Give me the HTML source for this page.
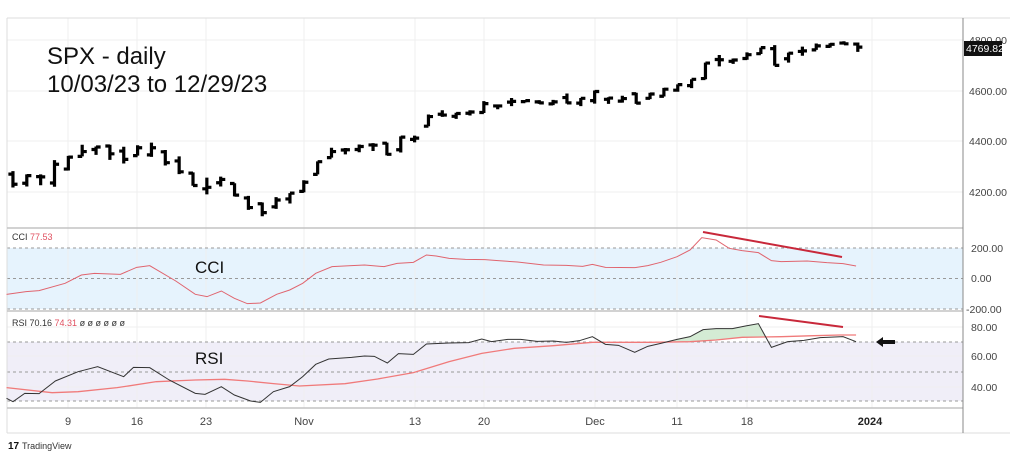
<!DOCTYPE html>
<html><head><meta charset="utf-8"><style>
html,body{margin:0;padding:0;background:#fff;}
svg{display:block;font-family:"Liberation Sans",sans-serif;}
</style></head><body>
<svg width="1023" height="457" viewBox="0 0 1023 457" xmlns="http://www.w3.org/2000/svg">
<rect width="1023" height="457" fill="#fff"/>
<rect x="7" y="248" width="956" height="61" fill="#e6f3fd"/>
<rect x="7" y="342" width="956" height="59" fill="#f0eef8"/>
<g stroke="#efefef" stroke-width="1">
<line x1="68" y1="18" x2="68" y2="408"/><line x1="137" y1="18" x2="137" y2="408"/><line x1="206" y1="18" x2="206" y2="408"/><line x1="304" y1="18" x2="304" y2="408"/><line x1="415" y1="18" x2="415" y2="408"/><line x1="484" y1="18" x2="484" y2="408"/><line x1="595" y1="18" x2="595" y2="408"/><line x1="677" y1="18" x2="677" y2="408"/><line x1="747" y1="18" x2="747" y2="408"/><line x1="872" y1="18" x2="872" y2="408"/>
<line x1="7" y1="40" x2="963" y2="40"/><line x1="7" y1="91" x2="963" y2="91"/><line x1="7" y1="141" x2="963" y2="141"/><line x1="7" y1="192" x2="963" y2="192"/>
<line x1="7" y1="327" x2="963" y2="327"/><line x1="7" y1="356" x2="963" y2="356"/><line x1="7" y1="387" x2="963" y2="387"/>
</g>
<g stroke="#999" stroke-width="1" stroke-dasharray="3,3">
<line x1="7" y1="248" x2="963" y2="248"/><line x1="7" y1="278.5" x2="963" y2="278.5"/><line x1="7" y1="309" x2="963" y2="309"/>
<line x1="7" y1="342" x2="963" y2="342"/><line x1="7" y1="372" x2="963" y2="372"/><line x1="7" y1="401" x2="963" y2="401"/>
</g>
<g stroke="#dcdcdc" stroke-width="1" fill="none">
<line x1="7" y1="18" x2="1010" y2="18"/>
<line x1="7" y1="433" x2="1010" y2="433"/>
<line x1="7" y1="18" x2="7" y2="433"/>
</g>
<g stroke="#c4c4c4" stroke-width="1.5">
<line x1="7" y1="228" x2="963" y2="228"/><line x1="7" y1="311" x2="963" y2="311"/><line x1="7" y1="408" x2="963" y2="408"/>
</g>
<line x1="963" y1="18" x2="963" y2="433" stroke="#888" stroke-width="1"/>

<g transform="matrix(13.85 0 0 -0.2535 12.95 1256.3)" fill="none">
<path vector-effect="non-scaling-stroke" stroke="#000" stroke-width="3.2" d="
M0,4216V4281M-0.33,4269H0M0,4229H0.33
M1,4220V4268M0.67,4233H1M1,4263H1.33
M2,4225V4268M1.67,4259H2M2,4258H2.33
M3,4219V4324M2.67,4234H3M3,4308H3.33
M4,4283V4341M3.67,4289H4M4,4336H4.33
M5,4339V4385M4.67,4339H5M5,4358H5.33
M6,4345V4378M5.67,4366H6M6,4376H6.33
M7,4325V4385M6.67,4380H7M7,4349H7.33
M8,4311V4377M7.67,4360H8M8,4327H8.33
M9,4342V4383M8.67,4342H9M9,4373H9.33
M10,4337V4393M9.67,4345H10M10,4373H10.33
M11,4303V4364M10.67,4357H11M11,4314H11.33
M12,4269V4339M11.67,4321H12M12,4278H12.33
M13,4223V4276M12.67,4273H13M13,4224H13.33
M14,4189V4255M13.67,4211H14M14,4217H14.33
M15,4220V4259M14.67,4235H15M15,4248H15.33
M16,4181V4233M15.67,4232H16M16,4186H16.33
M17,4128V4183M16.67,4175H17M17,4137H17.33
M18,4103V4157M17.67,4152H18M18,4117H18.33
M19,4132V4178M18.67,4140H19M19,4167H19.33
M20,4153V4194M19.67,4171H20M20,4194H20.33
M21,4197V4245M20.67,4201H21M21,4237H21.33
M22,4268V4319M21.67,4268H22M22,4318H22.33
M23,4334V4373M22.67,4334H23M23,4358H23.33
M24,4347V4372M23.67,4364H24M24,4365H24.33
M25,4355V4386M24.67,4366H25M25,4378H25.33
M26,4360V4391M25.67,4384H26M26,4383H26.33
M27,4343V4393M26.67,4391H27M27,4347H27.33
M28,4354V4418M27.67,4365H28M28,4415H28.33
M29,4394V4421M28.67,4406H29M29,4411H29.33
M30,4458V4504M29.67,4458H30M30,4496H30.33
M31,4495V4521M30.67,4505H31M31,4502H31.33
M32,4487V4511M31.67,4497H32M32,4508H32.33
M33,4500V4521M32.67,4509H33M33,4514H33.33
M34,4510V4557M33.67,4512H34M34,4547H34.33
M35,4525V4542M34.67,4538H35M35,4538H35.33
M36,4537V4569M35.67,4553H36M36,4556H36.33
M37,4552V4560M36.67,4555H37M37,4559H37.33
M38,4546V4561M37.67,4554H38M38,4550H38.33
M39,4541V4562M38.67,4546H39M39,4554H39.33
M40,4547V4587M39.67,4571H40M40,4550H40.33
M41,4537V4569M40.67,4549H41M41,4568H41.33
M42,4547V4599M41.67,4559H42M42,4595H42.33
M43,4546V4572M42.67,4564H43M43,4569H43.33
M44,4551V4578M43.67,4557H44M44,4567H44.33
M45,4546V4590M44.67,4586H45M45,4549H45.33
M46,4565V4590M45.67,4568H46M46,4585H46.33
M47,4575V4609M46.67,4576H47M47,4604H47.33
M48,4594V4623M47.67,4600H48M48,4622H48.33
M49,4608V4643M48.67,4618H49M49,4643H49.33
M50,4643V4709M49.67,4646H50M50,4707H50.33
M51,4694V4739M50.67,4721H51M51,4720H51.33
M52,4704V4725M51.67,4714H52M52,4719H52.33
M53,4720V4749M52.67,4725H53M53,4740H53.33
M54,4743V4768M53.67,4744H54M54,4768H54.33
M55,4697V4778M54.67,4764H55M55,4698H55.33
M56,4709V4748M55.67,4724H56M56,4746H56.33
M57,4736V4772M56.67,4753H57M57,4755H57.33
M58,4759V4784M57.67,4759H58M58,4775H58.33
M59,4768V4785M58.67,4773H59M59,4781H59.33
M60,4780V4793M59.67,4786H60M60,4783H60.33
M61,4751V4788M60.67,4782H61M61,4770H61.33"/>
</g>

<g transform="translate(0,225) scale(0.651,0.33333)" fill="none">
<polyline vector-effect="non-scaling-stroke" stroke="#e0646e" stroke-width="1" points="10,208 40,200 60,197 100,175 125,150 145,145 185,148 210,127 230,122 270,168 300,208 318,215 340,198 360,220 380,236 400,234 425,208 445,195 465,175 485,145 510,125 540,122 560,120 590,125 610,115 635,112 655,90 670,93 690,100 715,103 745,104 765,107 795,111 835,120 870,121 895,124 910,118 930,127 975,128 995,122 1015,112 1040,95 1060,75 1078,38 1100,45 1120,70 1140,77 1165,83 1185,107 1200,110 1240,108 1270,113 1295,116 1315,123"/>
<polygon fill="#cfe9cf" opacity="0.9" points="1030,348 1060,335 1080,314 1100,311 1125,311 1145,303 1165,296 1176,336 1140,337 1100,345 1060,350"/>
<polyline vector-effect="non-scaling-stroke" stroke="#f07a7a" stroke-width="1.3" points="10,488 80,503 120,500 180,488 240,470 300,465 345,463 380,468 420,476 460,483 530,476 580,462 635,443 690,410 740,385 790,370 850,362 910,352 1000,352 1060,350 1100,345 1140,337 1200,335 1250,332 1290,330 1315,330"/>
<polyline vector-effect="non-scaling-stroke" stroke="#333" stroke-width="1" points="10,520 20,530 38,505 60,506 85,468 120,440 150,425 190,455 205,427 230,428 260,465 300,505 315,508 340,485 360,510 385,528 400,532 420,500 445,485 465,455 485,418 505,402 540,397 560,393 575,394 595,414 612,386 635,388 655,357 690,354 720,353 740,342 755,350 780,343 800,343 825,349 850,348 870,352 890,347 910,335 930,358 950,361 975,382 995,364 1015,355 1040,343 1060,335 1080,314 1100,311 1125,311 1145,303 1165,296 1185,367 1210,350 1235,346 1260,338 1295,335 1315,350"/>
</g>
<line x1="703" y1="232" x2="842" y2="257" stroke="#c8283a" stroke-width="2"/>
<line x1="759" y1="316" x2="843" y2="327" stroke="#c8283a" stroke-width="2"/>
<path d="M876,342 L883,337 L883,340 L895,340 L895,344 L883,344 L883,347 Z" fill="#111"/>

<text x="47" y="64" font-size="24" fill="#111">SPX - daily</text>
<text x="47" y="92" font-size="24" fill="#111">10/03/23 to 12/29/23</text>
<text x="195" y="273" font-size="17" fill="#111">CCI</text>
<text x="195" y="364" font-size="17" fill="#111">RSI</text>
<text x="12" y="240" font-size="9" fill="#333">CCI <tspan fill="#e05060">77.53</tspan></text>
<text x="12" y="326" font-size="9" fill="#333">RSI 70.16 <tspan fill="#e05060">74.31</tspan> ø ø ø ø ø ø</text>

<g font-size="10.5" fill="#444">
<text x="969" y="44">4800.00</text>
<text x="969" y="95">4600.00</text>
<text x="969" y="145">4400.00</text>
<text x="969" y="196">4200.00</text>
<text x="971" y="252">200.00</text>
<text x="971" y="282">0.00</text>
<text x="966" y="313">-200.00</text>
<text x="971" y="331">80.00</text>
<text x="971" y="360">60.00</text>
<text x="971" y="391">40.00</text>
</g>
<rect x="964" y="41" width="38" height="15" fill="#111"/>
<text x="966" y="52" font-size="10.5" fill="#fff">4769.82</text>

<g font-size="11" fill="#444" text-anchor="middle">
<text x="68" y="425">9</text>
<text x="137" y="425">16</text>
<text x="206" y="425">23</text>
<text x="304" y="425">Nov</text>
<text x="415" y="425">13</text>
<text x="484" y="425">20</text>
<text x="595" y="425">Dec</text>
<text x="677" y="425">11</text>
<text x="747" y="425">18</text>
<text x="870" y="425" font-weight="bold" fill="#222">2024</text>
</g>
<text x="8" y="449" font-size="10" font-weight="bold" fill="#111">17</text>
<text x="22" y="449" font-size="9" fill="#333">TradingView</text>
</svg>
</body></html>
